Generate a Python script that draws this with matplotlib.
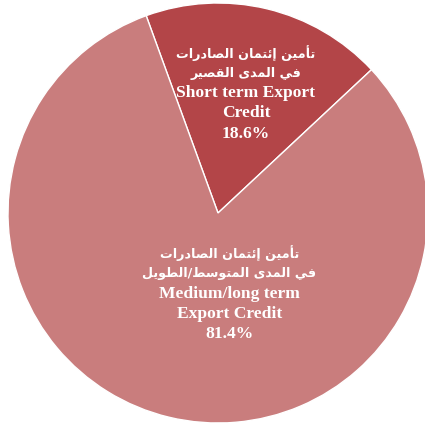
import matplotlib
matplotlib.use("Agg")
import matplotlib.pyplot as plt

# data
labels_ar = ["تأمين إئتمان الصادرات\nفي المدى القصير",
             "تأمين إئتمان الصادرات\nفي المدى المتوسط/الطويل"]
labels_en = ["Short term Export\nCredit", "Medium/long term\nExport Credit"]
values = [18.6, 81.4]
colors = ["#B34548", "#C97D7D"]

# matplotlib has no arabic shaping -> do a tiny one by hand
FORMS = {
    "ا": (0xFE8D, 0xFE8E, None, None),
    "أ": (0xFE83, 0xFE84, None, None),
    "إ": (0xFE87, 0xFE88, None, None),
    "ئ": (0xFE89, 0xFE8A, 0xFE8B, 0xFE8C),
    "ت": (0xFE95, 0xFE96, 0xFE97, 0xFE98),
    "د": (0xFEA9, 0xFEAA, None, None),
    "ر": (0xFEAD, 0xFEAE, None, None),
    "س": (0xFEB1, 0xFEB2, 0xFEB3, 0xFEB4),
    "ص": (0xFEB9, 0xFEBA, 0xFEBB, 0xFEBC),
    "ط": (0xFEC1, 0xFEC2, 0xFEC3, 0xFEC4),
    "ف": (0xFED1, 0xFED2, 0xFED3, 0xFED4),
    "ق": (0xFED5, 0xFED6, 0xFED7, 0xFED8),
    "ل": (0xFEDD, 0xFEDE, 0xFEDF, 0xFEE0),
    "م": (0xFEE1, 0xFEE2, 0xFEE3, 0xFEE4),
    "ن": (0xFEE5, 0xFEE6, 0xFEE7, 0xFEE8),
    "و": (0xFEED, 0xFEEE, None, None),
    "ى": (0xFEEF, 0xFEF0, None, None),
    "ي": (0xFEF1, 0xFEF2, 0xFEF3, 0xFEF4),
}


def shape(line):
    out = []
    for i, c in enumerate(line):
        if c not in FORMS:
            out.append(c)
            continue
        prev = line[i - 1] if i > 0 else None
        nxt = line[i + 1] if i + 1 < len(line) else None
        join_prev = prev in FORMS and FORMS[prev][2] is not None
        join_next = nxt in FORMS and FORMS[c][2] is not None
        iso, fin, ini, med = FORMS[c]
        if join_prev and join_next:
            out.append(chr(med))
        elif join_prev:
            out.append(chr(fin))
        elif join_next:
            out.append(chr(ini))
        else:
            out.append(chr(iso))
    return "".join(out)[::-1]


fig = plt.figure(figsize=(4.25, 4.26), dpi=100)
ax = fig.add_axes([8 / 425, 3 / 426, 420 / 425, 420 / 426])
wedges, _ = ax.pie(values, colors=colors, startangle=110, counterclock=False,
                   radius=1, wedgeprops=dict(edgecolor="white", linewidth=1))
ax.set_xlim(-1, 1)
ax.set_ylim(-1, 1)
ax.set_aspect("equal")
ax.axis("off")

# label block centres (data units) and line step
pos = [(0.133, 0.57), (0.055, -0.385)]
step = 0.096
for i in range(len(values)):
    lines = [(shape(l), "ar") for l in labels_ar[i].split("\n")]
    lines += [(l, "en") for l in labels_en[i].split("\n")]
    lines.append(("{:.1f}%".format(values[i]), "en"))
    n = len(lines)
    for k, (s, kind) in enumerate(lines):
        y = pos[i][1] + ((n - 1) / 2 - k) * step
        if kind == "ar":
            ax.text(pos[i][0], y, s, ha="center", va="center", color="white",
                    fontsize=9.2, fontweight="bold", family="DejaVu Sans")
        else:
            ax.text(pos[i][0], y, s, ha="center", va="center", color="white",
                    fontsize=12.6, fontweight="bold", family="Liberation Serif")

fig.savefig("out.png", dpi=100)
